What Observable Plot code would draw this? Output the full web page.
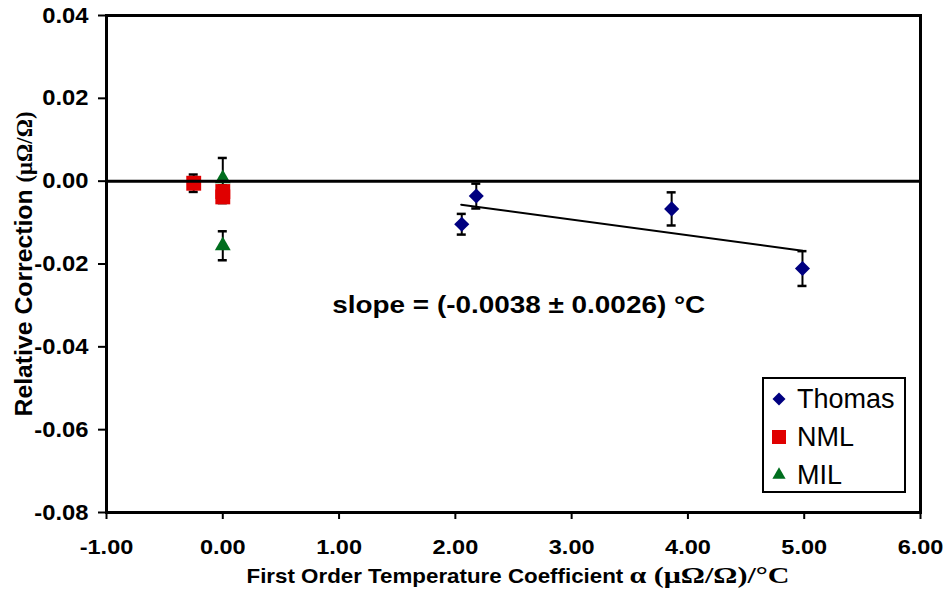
<!DOCTYPE html>
<html><head><meta charset="utf-8">
<script src="https://cdn.jsdelivr.net/npm/d3@7"></script>
<script src="https://cdn.jsdelivr.net/npm/@observablehq/plot@0.6"></script>
<style>
body{margin:0;background:#fff;}
#chart{width:945px;height:592px;}
</style></head><body><div id="chart"></div>
<script>
// ---- data ----
const thomasX = [2.055, 2.18, 3.86, 4.985];
const thomasY = [-0.0104, -0.0036, -0.0067, -0.0211];
const thomasErr = [0.0025, 0.0030, 0.0040, 0.0042];
const nmlX = [-0.25, 0, 0];
const nmlY = [-0.0005, -0.0025, -0.0038];
const nmlErr = [0.0021, 0.0015, 0.0015];
const milX = [0, 0];
const milY = [0.0006, -0.0156];
const milErr = [0.0050, 0.0035];
const fitX = [2.05, 4.985];
const fitY = [-0.0057, -0.0168];
const xTicks = [-1, 0, 1, 2, 3, 4, 5, 6];
const yTicks = [-0.08, -0.06, -0.04, -0.02, 0, 0.02, 0.04];
const annotText = ["slope = (-0.0038 ± 0.0026) °C"];
const annotX = [2.545];
const annotY = [-0.0300];
const seriesNames = ["Thomas", "NML", "MIL"];
const seriesColors = ["#000080", "#e00000", "#006e1e"];
const seriesSymbols = ["diamond2", "square", "triangle"];

const mk = (xs, ys, es, s) => xs.map((x, i) => ({x, y: ys[i], e: es[i], s}));
const pts = [
  ...mk(thomasX, thomasY, thomasErr, "Thomas"),
  ...mk(nmlX, nmlY, nmlErr, "NML"),
  ...mk(milX, milY, milErr, "MIL")
];
const fit = fitX.map((x, i) => ({x, y: fitY[i]}));
const annot = annotText.map((t, i) => ({t, x: annotX[i], y: annotY[i]}));
const fmt = d => d.toFixed(2);
const radius = {Thomas: 6.8, NML: 8.4, MIL: 5.9};
const SANS = "'Liberation Sans', Arial, sans-serif";
const SERIF = "'Liberation Serif', 'Times New Roman', serif";

const chart = Plot.plot({
  width: 945, height: 592,
  marginLeft: 106, marginRight: 25, marginTop: 15, marginBottom: 80,
  style: {fontFamily: SANS, fontWeight: "bold", background: "white", color: "black"},
  x: {domain: [-1, 6]},
  y: {domain: [-0.08, 0.04]},
  marks: [
    Plot.axisY({ticks: yTicks, tickFormat: fmt, tickSize: 8, tickPadding: 10, fontSize: 22, fontWeight: "bold", strokeWidth: 2, label: null}),
    Plot.axisX({ticks: xTicks, tickFormat: fmt, tickSize: 7, tickPadding: 20, fontSize: 21, fontWeight: "bold", strokeWidth: 2, label: null}),
    // error bars
    Plot.ruleX(pts, {x: "x", y1: d => d.y - d.e, y2: d => d.y + d.e, stroke: "black", strokeWidth: 2}),
    Plot.ruleY(pts, {y: d => d.y + d.e, x1: "x", x2: "x", insetLeft: -4.5, insetRight: -4.5, stroke: "black", strokeWidth: 2.5}),
    Plot.ruleY(pts, {y: d => d.y - d.e, x1: "x", x2: "x", insetLeft: -4.5, insetRight: -4.5, stroke: "black", strokeWidth: 2.5}),
    // markers per series
    ...seriesNames.map((s, i) => Plot.dot(pts.filter(d => d.s === s), {
      x: "x", y: "y", symbol: () => seriesSymbols[i], r: radius[s], fill: seriesColors[i], stroke: "none"
    })),
    Plot.line(fit, {x: "x", y: "y", stroke: "black", strokeWidth: 2}),
    Plot.ruleY([0], {stroke: "black", strokeWidth: 3}),
    Plot.text(annot, {x: "x", y: "y", text: "t", fontSize: 24, fontWeight: "bold", textAnchor: "middle", fill: "black"}),
    Plot.frame({stroke: "black", strokeWidth: 3})
  ]
});
document.getElementById("chart").appendChild(chart);

const svg = d3.select(chart);
const stretch = (sel, f) => sel.each(function() {
  const L = this.getComputedTextLength();
  d3.select(this).attr("textLength", L * f).attr("lengthAdjust", "spacingAndGlyphs");
});
stretch(svg.selectAll('[aria-label="x-axis tick label"] text'), 1.12);
stretch(svg.selectAll('[aria-label="y-axis tick label"] text'), 1.08);
svg.selectAll('g[aria-label="text"] text').each(function() {
  d3.select(this).attr("textLength", 373).attr("lengthAdjust", "spacingAndGlyphs");
});
const addSpan = (t, txt, font, size, len) => t.append("tspan").style("font-family", font).style("font-size", size)
  .text(txt).attr("textLength", len).attr("lengthAdjust", "spacingAndGlyphs");

// axis titles
const xl = svg.append("text").attr("x", 518).attr("y", 583).attr("text-anchor", "middle")
  .style("font-weight", "bold").attr("fill", "black");
addSpan(xl, "First Order Temperature Coefficient ", SANS, "21px", 383);
addSpan(xl, "α (μΩ/Ω)/°C", SERIF, "23px", 160);

const yl = svg.append("text").attr("transform", "translate(31.5,264) rotate(-90)").attr("text-anchor", "middle")
  .style("font-weight", "bold").attr("fill", "black");
addSpan(yl, "Relative Correction ", SANS, "24px", 234);
addSpan(yl, "(μΩ/Ω)", SERIF, "24px", 71);

// legend
const lg = svg.append("g");
lg.append("rect").attr("x", 763).attr("y", 378).attr("width", 142).attr("height", 114)
  .attr("fill", "white").attr("stroke", "black").attr("stroke-width", 2);
const legSym = [d3.symbol(d3.symbolDiamond2, 108), d3.symbol(d3.symbolSquare, 196), d3.symbol(d3.symbolTriangle, 76)];
const legY = [399, 437, 475];
seriesNames.forEach((s, i) => {
  lg.append("path").attr("d", legSym[i]()).attr("transform", `translate(779,${legY[i]})`).attr("fill", seriesColors[i]);
  lg.append("text").attr("x", 797).attr("y", legY[i] + 8.5).attr("text-anchor", "start").text(s)
    .style("font-family", SANS).style("font-weight", "normal").style("font-size", "27px").attr("fill", "black");
});
</script>
</body></html>
